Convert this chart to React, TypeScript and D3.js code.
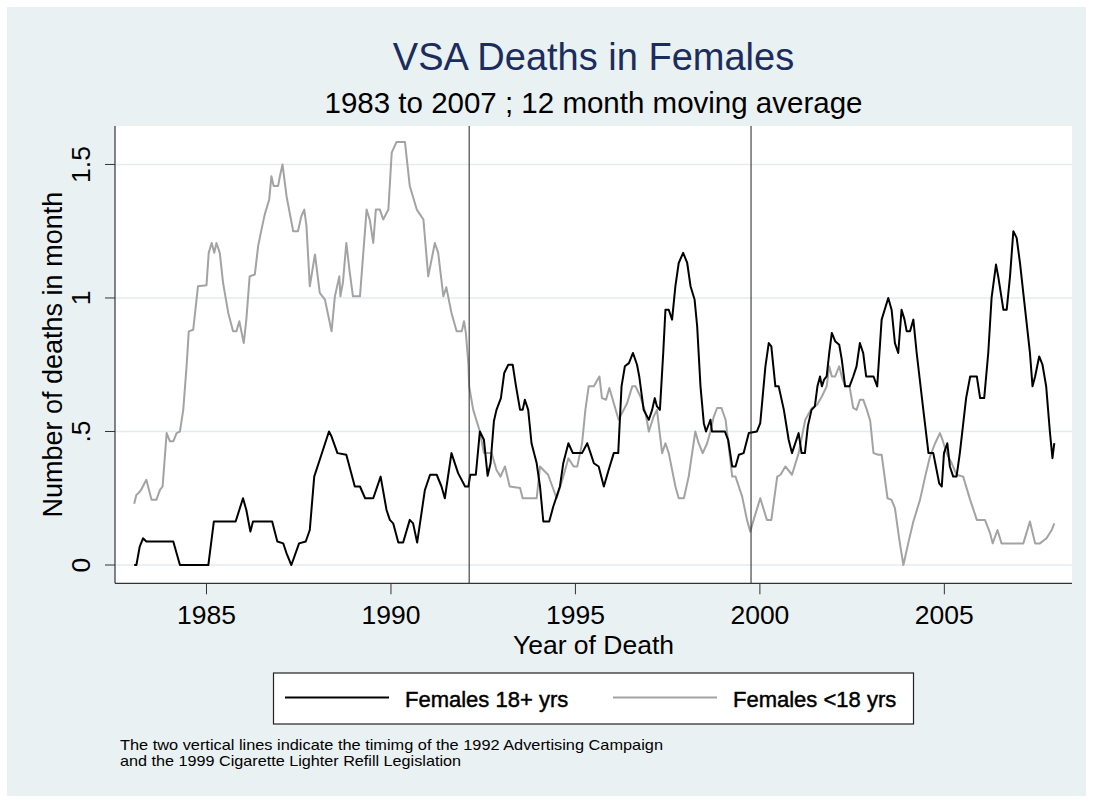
import React from "react";
import * as d3 from "d3";

// 12 month moving average, Females 18+ yrs (black)
const adultTime = [
  1983.04, 1983.1, 1983.19, 1983.28, 1983.37, 1984.1, 1984.28, 1985.05, 1985.2, 1985.79,
  1985.99, 1986.08, 1986.19, 1986.26, 1986.78, 1986.92, 1987.08, 1987.17, 1987.3, 1987.51,
  1987.69, 1987.8, 1987.92, 1988.07, 1988.32, 1988.39, 1988.55, 1988.79, 1989.02, 1989.16,
  1989.3, 1989.52, 1989.72, 1989.88, 1989.97, 1990.06, 1990.2, 1990.33, 1990.51, 1990.6,
  1990.71, 1990.92, 1991.06, 1991.24, 1991.37, 1991.46, 1991.64, 1991.82, 1992.01, 1992.1,
  1992.15, 1992.3, 1992.41, 1992.52, 1992.62, 1992.7, 1992.79, 1992.86, 1992.98, 1993.07,
  1993.18, 1993.3, 1993.39, 1993.5, 1993.57, 1993.63, 1993.72, 1993.81, 1993.95, 1994.04,
  1994.13, 1994.29, 1994.4, 1994.58, 1994.67, 1994.81, 1994.93, 1995.08, 1995.18, 1995.32,
  1995.41, 1995.5, 1995.63, 1995.77, 1995.9, 1996.04, 1996.16, 1996.25, 1996.34, 1996.45,
  1996.56, 1996.67, 1996.73, 1996.85, 1996.99, 1997.08, 1997.15, 1997.21, 1997.29, 1997.38,
  1997.44, 1997.53, 1997.62, 1997.71, 1997.8, 1997.92, 1998.03, 1998.12, 1998.23, 1998.3,
  1998.39, 1998.48, 1998.54, 1998.66, 1998.7, 1999.05, 1999.14, 1999.25, 1999.34, 1999.43,
  1999.56, 1999.7, 1999.92, 2000.01, 2000.15, 2000.24, 2000.31, 2000.42, 2000.51, 2000.65,
  2000.78, 2000.87, 2001.05, 2001.13, 2001.22, 2001.3, 2001.4, 2001.49, 2001.56, 2001.63,
  2001.68, 2001.74, 2001.81, 2001.88, 2001.95, 2002.04, 2002.15, 2002.22, 2002.31, 2002.43,
  2002.53, 2002.62, 2002.71, 2002.8, 2002.88, 2003.08, 2003.18, 2003.3, 2003.48, 2003.57,
  2003.66, 2003.75, 2003.84, 2003.92, 2003.98, 2004.07, 2004.16, 2004.25, 2004.43, 2004.57,
  2004.7, 2004.79, 2004.86, 2004.93, 2004.99, 2005.08, 2005.15, 2005.24, 2005.33, 2005.42,
  2005.59, 2005.7, 2005.88, 2005.97, 2006.08, 2006.19, 2006.28, 2006.4, 2006.46, 2006.6,
  2006.69, 2006.78, 2006.87, 2006.96, 2007.05, 2007.19, 2007.32, 2007.39, 2007.46, 2007.57,
  2007.66, 2007.76, 2007.86, 2007.93, 2007.98,
];
const adultDeaths = [
  0, 0, 0.069, 0.1, 0.088, 0.088, 0, 0, 0.163, 0.163,
  0.25, 0.206, 0.125, 0.163, 0.163, 0.088, 0.081, 0.044, 0, 0.081,
  0.088, 0.131, 0.331, 0.394, 0.5, 0.481, 0.419, 0.413, 0.294, 0.294,
  0.25, 0.25, 0.331, 0.206, 0.169, 0.156, 0.084, 0.084, 0.169, 0.156,
  0.084, 0.281, 0.338, 0.338, 0.294, 0.25, 0.419, 0.344, 0.294, 0.294,
  0.338, 0.338, 0.5, 0.469, 0.334, 0.381, 0.538, 0.581, 0.625, 0.719,
  0.75, 0.75, 0.669, 0.581, 0.581, 0.619, 0.581, 0.456, 0.381, 0.294,
  0.163, 0.163, 0.219, 0.294, 0.381, 0.456, 0.419, 0.419, 0.419, 0.456,
  0.419, 0.381, 0.369, 0.294, 0.356, 0.419, 0.419, 0.669, 0.744, 0.756,
  0.794, 0.75, 0.706, 0.581, 0.544, 0.581, 0.625, 0.594, 0.581, 0.794,
  0.956, 0.956, 0.919, 1.044, 1.131, 1.169, 1.131, 1.044, 0.994, 0.894,
  0.669, 0.531, 0.5, 0.544, 0.5, 0.5, 0.469, 0.369, 0.369, 0.413,
  0.419, 0.494, 0.5, 0.531, 0.744, 0.831, 0.819, 0.669, 0.669, 0.581,
  0.469, 0.419, 0.494, 0.419, 0.419, 0.52, 0.581, 0.594, 0.669, 0.706,
  0.669, 0.694, 0.706, 0.794, 0.869, 0.838, 0.825, 0.769, 0.669, 0.669,
  0.706, 0.744, 0.831, 0.794, 0.706, 0.706, 0.669, 0.919, 1.0, 0.956,
  0.831, 0.794, 0.956, 0.919, 0.875, 0.875, 0.919, 0.794, 0.581, 0.419,
  0.419, 0.356, 0.306, 0.294, 0.419, 0.456, 0.369, 0.331, 0.331, 0.419,
  0.625, 0.706, 0.706, 0.625, 0.625, 0.794, 1.0, 1.125, 1.081, 0.956,
  0.956, 1.081, 1.25, 1.225, 1.131, 0.956, 0.794, 0.669, 0.706, 0.781,
  0.75, 0.669, 0.5, 0.4, 0.456,
];

// 12 month moving average, Females <18 yrs (grey)
const youthTime = [
  1983.04, 1983.1, 1983.16, 1983.22, 1983.37, 1983.51, 1983.64, 1983.74, 1983.81, 1983.92,
  1984.01, 1984.1, 1984.19, 1984.28, 1984.37, 1984.46, 1984.52, 1984.64, 1984.77, 1985.0,
  1985.06, 1985.14, 1985.21, 1985.27, 1985.36, 1985.45, 1985.59, 1985.72, 1985.81, 1985.89,
  1986.01, 1986.08, 1986.17, 1986.31, 1986.4, 1986.49, 1986.58, 1986.7, 1986.76, 1986.82,
  1986.94, 1986.99, 1987.06, 1987.17, 1987.35, 1987.48, 1987.57, 1987.65, 1987.71, 1987.8,
  1987.94, 1988.07, 1988.21, 1988.39, 1988.48, 1988.6, 1988.63, 1988.7, 1988.79, 1988.88,
  1988.97, 1989.16, 1989.34, 1989.43, 1989.52, 1989.59, 1989.7, 1989.79, 1989.93, 1990.02,
  1990.15, 1990.38, 1990.51, 1990.7, 1990.88, 1991.01, 1991.19, 1991.28, 1991.42, 1991.5,
  1991.64, 1991.78, 1991.92, 1991.98, 1992.03, 1992.1, 1992.12, 1992.23, 1992.41, 1992.52,
  1992.73, 1992.86, 1992.97, 1993.09, 1993.22, 1993.5, 1993.57, 1993.95, 1994.04, 1994.26,
  1994.49, 1994.67, 1994.81, 1994.95, 1995.05, 1995.18, 1995.27, 1995.36, 1995.5, 1995.65,
  1995.72, 1995.83, 1995.92, 1996.04, 1996.17, 1996.4, 1996.54, 1996.63, 1996.76, 1996.9,
  1996.99, 1997.12, 1997.21, 1997.35, 1997.44, 1997.53, 1997.71, 1997.8, 1997.94, 1998.07,
  1998.25, 1998.34, 1998.45, 1998.57, 1998.66, 1998.75, 1998.84, 1998.96, 1999.07, 1999.25,
  1999.34, 1999.52, 1999.65, 1999.74, 1999.83, 2000.01, 2000.19, 2000.31, 2000.47, 2000.56,
  2000.69, 2000.87, 2001.05, 2001.23, 2001.41, 2001.55, 2001.68, 2001.81, 2001.88, 2001.95,
  2002.04, 2002.15, 2002.22, 2002.31, 2002.43, 2002.53, 2002.62, 2002.71, 2002.8, 2002.9,
  2002.99, 2003.08, 2003.21, 2003.3, 2003.46, 2003.57, 2003.66, 2003.78, 2003.89, 2004.02,
  2004.16, 2004.34, 2004.48, 2004.61, 2004.75, 2004.88, 2004.95, 2005.06, 2005.2, 2005.33,
  2005.51, 2005.7, 2005.88, 2006.1, 2006.24, 2006.31, 2006.44, 2006.55, 2007.14, 2007.32,
  2007.46, 2007.59, 2007.77, 2007.91, 2007.98,
];
const youthDeaths = [
  0.229, 0.263, 0.27, 0.28, 0.319, 0.244, 0.244, 0.281, 0.294, 0.494,
  0.463, 0.463, 0.494, 0.5, 0.581, 0.744, 0.875, 0.881, 1.044, 1.048,
  1.169, 1.206, 1.169, 1.206, 1.169, 1.056, 0.944, 0.875, 0.875, 0.913,
  0.831, 0.919, 1.081, 1.088, 1.194, 1.256, 1.313, 1.369, 1.456, 1.419,
  1.419, 1.456, 1.5, 1.381, 1.25, 1.25, 1.306, 1.331, 1.269, 1.044,
  1.163, 1.019, 0.994, 0.875, 1.006, 1.081, 1.006, 1.06, 1.206, 1.1,
  1.006, 1.006, 1.331, 1.29, 1.206, 1.331, 1.331, 1.294, 1.331, 1.544,
  1.584, 1.584, 1.419, 1.331, 1.294, 1.081, 1.206, 1.169, 1.006, 1.04,
  0.944, 0.875, 0.875, 0.913, 0.869, 0.75, 0.669, 0.581, 0.5, 0.419,
  0.419, 0.356, 0.331, 0.369, 0.294, 0.288, 0.25, 0.25, 0.369, 0.338,
  0.25, 0.331, 0.4, 0.369, 0.369, 0.456, 0.581, 0.669, 0.669, 0.706,
  0.625, 0.619, 0.663, 0.606, 0.544, 0.606, 0.669, 0.669, 0.631, 0.569,
  0.5, 0.556, 0.581, 0.419, 0.456, 0.419, 0.294, 0.25, 0.25, 0.331,
  0.5, 0.456, 0.419, 0.456, 0.5, 0.556, 0.588, 0.588, 0.544, 0.331,
  0.331, 0.256, 0.169, 0.125, 0.169, 0.25, 0.169, 0.169, 0.331, 0.338,
  0.369, 0.338, 0.419, 0.544, 0.588, 0.6, 0.631, 0.669, 0.744, 0.706,
  0.706, 0.744, 0.706, 0.669, 0.669, 0.588, 0.581, 0.619, 0.619, 0.581,
  0.54, 0.419, 0.413, 0.413, 0.25, 0.244, 0.213, 0.094, 0, 0.081,
  0.163, 0.244, 0.331, 0.406, 0.456, 0.494, 0.469, 0.419, 0.381, 0.338,
  0.331, 0.244, 0.169, 0.169, 0.119, 0.081, 0.131, 0.081, 0.081, 0.163,
  0.081, 0.081, 0.1, 0.131, 0.156,
];

const yearTicks = [1985, 1990, 1995, 2000, 2005];
const deathTicks = [0, 0.5, 1, 1.5];
const deathTickLabels = ["0", ".5", "1", "1.5"];
const eventYears = [1992.12, 1999.76];
const seriesNames = ["Females 18+ yrs", "Females <18 yrs"];
const noteLines = [
  "The two vertical lines indicate the timimg of the 1992 Advertising Campaign",
  "and the 1999 Cigarette Lighter Refill Legislation",
];

const W = 1093;
const H = 801;
const plot = { left: 115, right: 1072, top: 126, bottom: 583.3 };
const font = "'Liberation Sans', Arial, Helvetica, sans-serif";
const black = "#000000";
const grey = "#a3a3a3";
const gridColor = "#e3edf0";

export default function App() {
  const x = d3.scaleLinear().domain([1982.52, 2008.46]).range([plot.left, plot.right]);
  const y = d3.scaleLinear().domain([-0.0685, 1.644]).range([plot.bottom, plot.top]);

  const line = d3
    .line<[number, number]>()
    .x((d) => x(d[0]))
    .y((d) => y(d[1]));

  const adult = adultTime.map((t, i) => [t, adultDeaths[i]] as [number, number]);
  const youth = youthTime.map((t, i) => [t, youthDeaths[i]] as [number, number]);

  const midX = (plot.left + plot.right) / 2;
  const midY = (plot.top + plot.bottom) / 2;

  return (
    <svg
      width={W}
      height={H}
      style={{ position: "absolute", left: 0, top: 0, display: "block" }}
      fontFamily={font}
    >
      <rect x={0} y={0} width={W} height={H} fill="#ffffff" />
      <rect x={7} y={7} width={W - 14} height={H - 12} fill="#eaf1f3" />

      <text x={midX} y={70} textAnchor="middle" fontSize={38} fill="#1b2c5e">
        VSA Deaths in Females
      </text>
      <text x={midX} y={113} textAnchor="middle" fontSize={29.5} fill="#000">
        1983 to 2007 ; 12 month moving average
      </text>

      {/* plot region */}
      <rect
        x={plot.left}
        y={plot.top}
        width={plot.right - plot.left}
        height={plot.bottom - plot.top}
        fill="#ffffff"
      />
      {deathTicks.map((t) => (
        <line
          key={"g" + t}
          x1={plot.left}
          x2={plot.right}
          y1={y(t)}
          y2={y(t)}
          stroke={gridColor}
          strokeWidth={1.6}
        />
      ))}

      <path d={line(youth) ?? ""} fill="none" stroke={grey} strokeWidth={2} strokeLinejoin="round" />
      <path d={line(adult) ?? ""} fill="none" stroke={black} strokeWidth={2} strokeLinejoin="round" />

      {eventYears.map((e) => (
        <line
          key={"v" + e}
          x1={x(e)}
          x2={x(e)}
          y1={plot.top}
          y2={plot.bottom}
          stroke="#222"
          strokeWidth={1}
        />
      ))}

      {/* axes */}
      <line x1={plot.left} x2={plot.left} y1={plot.top} y2={plot.bottom} stroke="#333" strokeWidth={1.2} />
      <line x1={plot.left} x2={plot.right} y1={plot.bottom} y2={plot.bottom} stroke="#333" strokeWidth={1.2} />

      {yearTicks.map((t) => (
        <g key={"x" + t}>
          <line x1={x(t)} x2={x(t)} y1={plot.bottom} y2={plot.bottom + 11} stroke="#333" strokeWidth={1} />
          <text x={x(t)} y={624} textAnchor="middle" fontSize={26.5} fill="#000">
            {t}
          </text>
        </g>
      ))}
      {deathTicks.map((t, i) => (
        <g key={"y" + t}>
          <line x1={plot.left - 10} x2={plot.left} y1={y(t)} y2={y(t)} stroke="#333" strokeWidth={1} />
          <text
            transform={`translate(90,${y(t)}) rotate(-90)`}
            textAnchor="middle"
            fontSize={26.5}
            fill="#000"
          >
            {deathTickLabels[i]}
          </text>
        </g>
      ))}

      <text x={midX} y={654} textAnchor="middle" fontSize={26.5} fill="#000">
        Year of Death
      </text>
      <text
        transform={`translate(62,${midY}) rotate(-90)`}
        textAnchor="middle"
        fontSize={27}
        fill="#000"
      >
        Number of deaths in month
      </text>

      {/* legend */}
      <rect x={273.5} y={673} width={640} height={51} fill="#ffffff" stroke="#222" strokeWidth={1.2} />
      <line x1={285} x2={389} y1={697.5} y2={697.5} stroke={black} strokeWidth={2} />
      <text x={405} y={706.5} fontSize={22} fill="#000" stroke="#000" strokeWidth={0.45}>
        {seriesNames[0]}
      </text>
      <line x1={613} x2={717} y1={697.5} y2={697.5} stroke={grey} strokeWidth={2} />
      <text x={733} y={706.5} fontSize={22} fill="#000" stroke="#000" strokeWidth={0.45}>
        {seriesNames[1]}
      </text>

      {/* note */}
      <text x={120} y={750} fontSize={15} fill="#000" textLength={543} lengthAdjust="spacingAndGlyphs">
        {noteLines[0]}
      </text>
      <text x={120} y={766} fontSize={15} fill="#000" textLength={341} lengthAdjust="spacingAndGlyphs">
        {noteLines[1]}
      </text>
    </svg>
  );
}
